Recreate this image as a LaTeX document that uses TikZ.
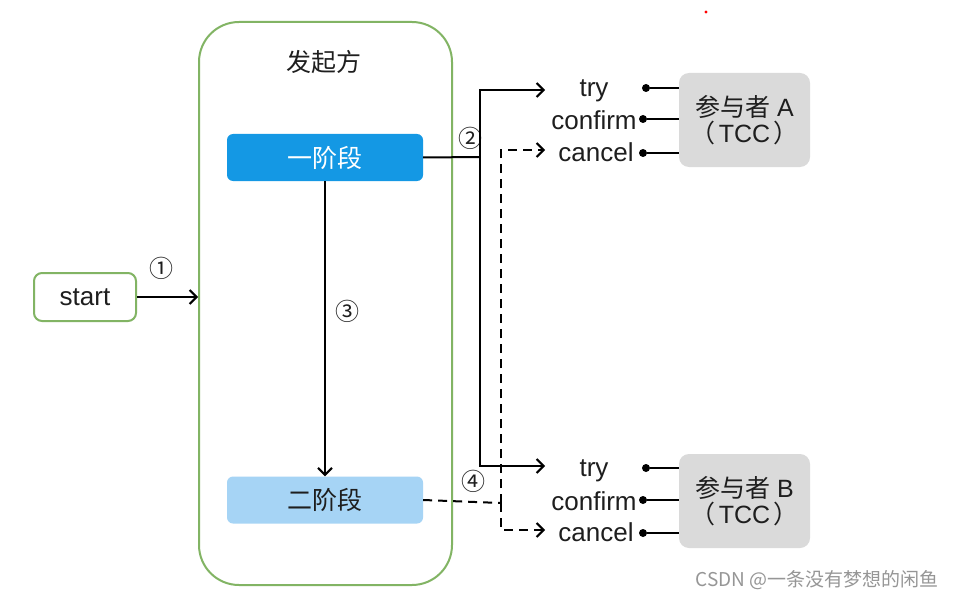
\documentclass[tikz,border=0pt]{standalone}
\usepackage{fontspec}
\setmainfont{Liberation Sans}
\newfontfamily\cjk{Noto Sans CJK SC}
\usetikzlibrary{arrows.meta}
\definecolor{grn}{RGB}{130,180,100}
\definecolor{blu}{RGB}{20,152,228}
\definecolor{lblu}{RGB}{166,212,245}
\definecolor{gry}{RGB}{218,218,218}
\definecolor{txt}{RGB}{30,30,30}
\definecolor{wm}{RGB}{150,150,150}
\tikzset{
  big/.style={font=\fontsize{26}{30}\selectfont, text=txt},
  sbox/.style={draw=grn, line width=2pt, rounded corners=8pt, minimum width=102pt, minimum height=48pt, big},
  cont/.style={draw=grn, line width=2pt, rounded corners=40pt, minimum width=253pt, minimum height=563pt},
  phase/.style={rounded corners=6pt, minimum width=196pt, minimum height=47pt, font=\cjk\fontsize{25}{29}\selectfont},
  pbox/.style={fill=gry, rounded corners=10pt, minimum width=131pt, minimum height=94pt, font=\fontsize{25}{29}\selectfont, text=txt, align=center},
  lbl/.style={big, inner sep=0pt},
  num/.style={font=\cjk\fontsize{24}{26}\selectfont, text=txt, inner sep=0pt},
  dot/.style={circle, fill=black, inner sep=0pt, minimum size=8pt},
  conn/.style={line width=2pt, black},
  arr/.style={conn, -{Straight Barb[length=7pt,width=14pt,line width=2pt]}},
  dsh/.style={dash pattern=on 9pt off 6pt},
}
\begin{document}
\begin{tikzpicture}[x=1pt,y=-1pt]
\useasboundingbox (0,0) rectangle (953,599);
\fill[white] (0,0) rectangle (953,599);
\fill[red] (706,12) circle (1.6pt);
% nodes
\node[sbox] (start) at (85,297) {start};
\node[cont] (cont) at (325.5,303.5) {};
\node[font=\cjk\fontsize{25}{29}\selectfont, text=txt] (title) at (324,62) {发起方};
\node[phase, fill=blu, text=white] (p1) at (325,157.5) {一阶段};
\node[phase, fill=lblu, text=txt] (p2) at (325,500) {二阶段};
\node[pbox] (pa) at (744.5,120) {{\cjk 参与者} A\\[-3pt]{\cjk （}\hspace{3pt}TCC\hspace{3pt}{\cjk ）}};
\node[pbox] (pb) at (744.5,501) {{\cjk 参与者} B\\[-3pt]{\cjk （}\hspace{3pt}TCC\hspace{3pt}{\cjk ）}};
% labels
\node[lbl] (tryA) at (594,91) {try};
\node[lbl] (confA) at (594,120) {confirm};
\node[lbl] (canA) at (596,152) {cancel};
\node[lbl] (tryB) at (594,471) {try};
\node[lbl] (confB) at (594,501) {confirm};
\node[lbl] (canB) at (596,532) {cancel};
% dots
\node[dot] (dA1) at (646,88) {};
\node[dot] (dA2) at (643,119) {};
\node[dot] (dA3) at (643,153) {};
\node[dot] (dB1) at (646,468) {};
\node[dot] (dB2) at (643,500) {};
\node[dot] (dB3) at (643,533) {};
\foreach \d in {dA1,dA2,dA3}{\draw[conn] (\d) -- (\d -| pa.west);}
\foreach \d in {dB1,dB2,dB3}{\draw[conn] (\d) -- (\d -| pb.west);}
% numbers
\node[num] (n1) at (161,268) {①};
\node[num] (n2) at (470,138) {②};
\node[num] (n3) at (347,311) {③};
\node[num] (n4) at (473,481) {④};
% connectors
\draw[arr] (start.east) -- (start.east -| cont.west);
\draw[arr] (p1.south) -- (p2.north);
\coordinate (j1) at (480,157);
\coordinate (tA) at (545,90);
\coordinate (tB) at (545,466);
\draw[conn] (p1.east) -- (j1);
\draw[arr] (j1) |- (tA);
\draw[arr] (j1) |- (tB);
\coordinate (j2) at (501,503);
\coordinate (cA) at (545,150);
\coordinate (cB) at (545,530);
\draw[conn,dsh] (p2.east) -- (j2);
\draw[arr,dsh] (j2) |- (cA);
\draw[arr,dsh] (j2) |- (cB);
% watermark
\node[font=\cjk\fontsize{19}{21}\selectfont, text=wm, inner sep=0pt] (wmk) at (817,580) {CSDN @一条没有梦想的闲鱼};
\end{tikzpicture}
\end{document}
